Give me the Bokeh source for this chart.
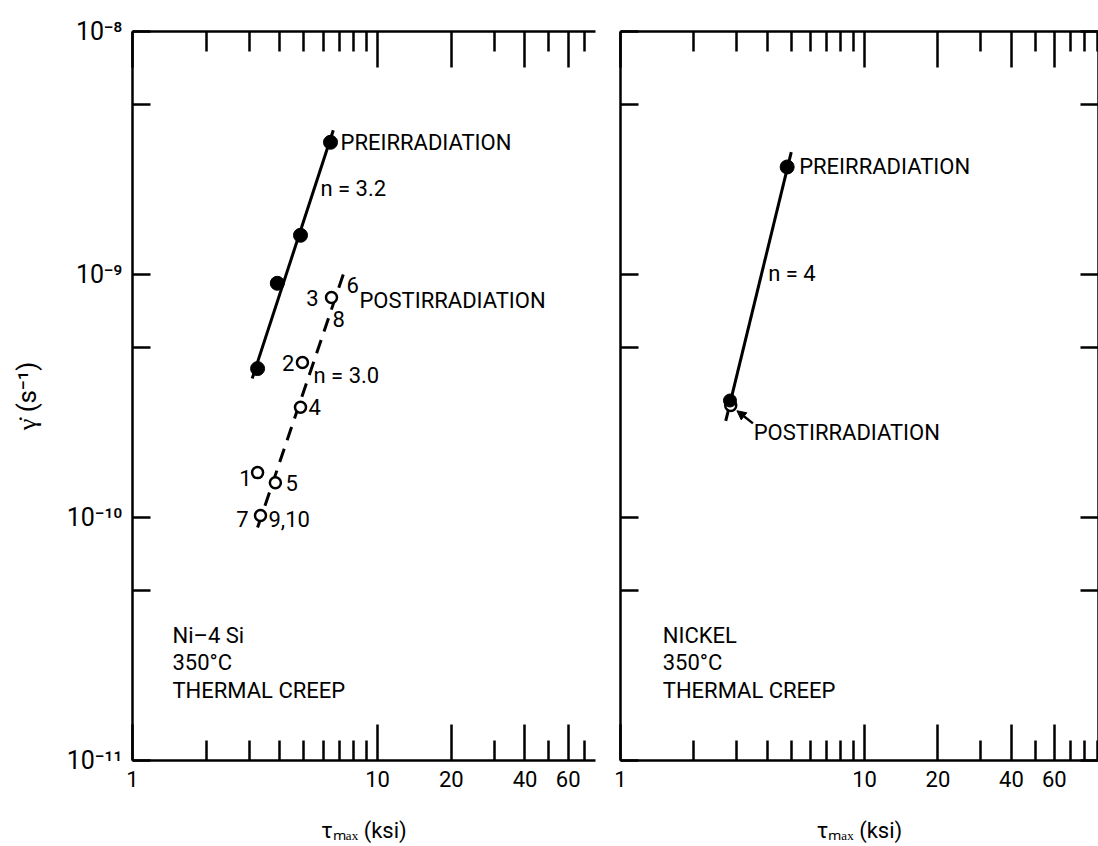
from bokeh.plotting import figure
from bokeh.models import (FixedTicker, LogAxis, CustomJSTickFormatter, Label, Arrow,
                          NormalHead, Range1d)
from bokeh.layouts import row
from bokeh.core.properties import value
from bokeh.embed import file_html
from bokeh.resources import INLINE

# ---------------- data ----------------
# Ni-4Si, preirradiation (filled)
ni4si_pre_tau = [3.24, 3.90, 4.85, 6.43]
ni4si_pre_rate = [4.1e-10, 9.2e-10, 1.45e-9, 3.5e-9]
ni4si_pre_fit_tau = [3.08, 6.60]
ni4si_pre_fit_rate = [3.73e-10, 3.92e-9]

# Ni-4Si, postirradiation (open), specimens 1,2,3(6,8),4,5,7(9,10)
ni4si_post_id = ["1", "2", "3", "4", "5", "7"]
ni4si_post_tau = [3.24, 4.94, 6.49, 4.85, 3.83, 3.33]
ni4si_post_rate = [1.53e-10, 4.34e-10, 8.04e-10, 2.84e-10, 1.39e-10, 1.02e-10]
ni4si_post_fit_tau = [3.24, 7.30]
ni4si_post_fit_rate = [9.1e-11, 1.02e-9]

# Nickel
ni_pre_tau = [4.82]
ni_pre_rate = [2.77e-9]
ni_post_tau = [2.83]
ni_post_rate = [2.89e-10]
ni_post_filled_tau = [2.81]
ni_post_filled_rate = [3.03e-10]
ni_fit_tau = [2.70, 5.01]
ni_fit_rate = [2.5e-10, 3.19e-9]

# ticks
x_tick_values = [1, 10, 20, 40, 60]
x_tick_labels = ["1", "10", "20", "40", "60"]
x_minor_values = [2, 3, 4, 5, 6, 7, 8, 9, 30, 50, 70, 80, 90]
y_tick_values = [1e-11, 1e-10, 1e-9, 1e-8]
y_tick_labels = ["10\u207b\u00b9\u00b9", "10\u207b\u00b9\u2070", "10\u207b\u2079", "10\u207b\u2078"]
y_minor_values = [5e-11, 5e-10, 5e-9]

FONT = "Roboto"
FS = "22px"

label_code = """
let best = 0, bd = Infinity;
for (let i = 0; i < vals.length; i++) {
  const d = Math.abs(Math.log10(tick) - Math.log10(vals[i]));
  if (d < bd) { bd = d; best = i; }
}
return labs[best];
"""
blank_code = "return '';"


def style_axis(ax, major, minor, labels, major_in, minor_in, show_labels, fs=FS):
    ax.ticker = FixedTicker(ticks=major, minor_ticks=minor)
    ax.major_tick_in = major_in
    ax.major_tick_out = 0
    ax.minor_tick_in = minor_in
    ax.minor_tick_out = 0
    ax.axis_line_width = 2.5
    ax.major_tick_line_width = 2.5
    ax.minor_tick_line_width = 2.5
    ax.axis_line_color = "black"
    ax.major_tick_line_color = "black"
    ax.minor_tick_line_color = "black"
    if show_labels:
        ax.formatter = CustomJSTickFormatter(args=dict(vals=major, labs=labels), code=label_code)
        ax.major_label_text_font = FONT
        ax.major_label_text_font_size = fs
        ax.major_label_text_color = "black"
    else:
        ax.formatter = CustomJSTickFormatter(code=blank_code)
        ax.major_label_text_font_size = "0px"
        ax.major_label_standoff = 0


def make_panel(width, border_left, border_right, x_end, left_labels, right_axis):
    p = figure(width=width, height=846, x_axis_type="log", y_axis_type="log",
               x_range=Range1d(1, x_end), y_range=Range1d(1e-11, 1e-8),
               output_backend="svg", toolbar_location=None,
               min_border_left=border_left, min_border_right=border_right,
               min_border_top=31, min_border_bottom=86)
    p.grid.visible = False
    p.outline_line_color = None
    p.background_fill_color = "white"
    p.border_fill_color = "white"

    xb = p.xaxis[0]
    style_axis(xb, x_tick_values, x_minor_values, x_tick_labels, 36, 20, True)
    xb.major_label_standoff = 10
    xb.axis_label = "\u03c4\u2098\u2090\u2093 (ksi)"
    xb.axis_label_text_font = FONT
    xb.axis_label_text_font_size = FS
    xb.axis_label_text_font_style = "normal"
    xb.axis_label_text_color = "black"
    xb.axis_label_standoff = 28

    xt = LogAxis()
    style_axis(xt, x_tick_values, x_minor_values, x_tick_labels, 36, 20, False)
    p.add_layout(xt, "above")

    yl = p.yaxis[0]
    style_axis(yl, y_tick_values, y_minor_values, y_tick_labels, 18, 18, left_labels, fs="25px")
    if left_labels:
        yl.major_label_standoff = 10
        yl.axis_label = "\u03b3\u0307 (s\u207b\u00b9)"
        yl.axis_label_text_font = FONT
        yl.axis_label_text_font_size = "26px"
        yl.axis_label_text_font_style = "normal"
        yl.axis_label_text_color = "black"
        yl.axis_label_standoff = 22

    if right_axis:
        yr = LogAxis()
        style_axis(yr, y_tick_values, y_minor_values, y_tick_labels, 18, 18, False)
        p.add_layout(yr, "right")
    return p


def add_text(p, x, y, txt, dx=0, dy=0, align="left"):
    p.text(x=x, y=y, text=txt, x_offset=dx, y_offset=dy,
           text_font=value(FONT), text_font_size=FS, text_color="black",
           text_baseline="middle", text_align=align)


# ---------------- left panel: Ni-4 Si ----------------
p1 = make_panel(607, 132, 12, 77.6, True, False)

p1.line(ni4si_pre_fit_tau, ni4si_pre_fit_rate, line_color="black", line_width=3)
p1.line(ni4si_post_fit_tau, ni4si_post_fit_rate, line_color="black", line_width=3,
        line_dash="14 9")
p1.scatter(ni4si_pre_tau, ni4si_pre_rate, size=14, marker="circle",
           fill_color="black", line_color="black")
p1.scatter(ni4si_post_tau, ni4si_post_rate, size=11, marker="circle",
           fill_color="white", line_color="black", line_width=2.5)

add_text(p1, [ni4si_pre_tau[-1]], [ni4si_pre_rate[-1]], ["PREIRRADIATION"], dx=10)

# specimen numbers next to the open circles
pt = lambda i: ([ni4si_post_tau[i]], [ni4si_post_rate[i]])
add_text(p1, *pt(0), ["1"], dx=-6, dy=5, align="right")
add_text(p1, *pt(1), ["2"], dx=-8, dy=0, align="right")
add_text(p1, *pt(2), ["3"], dx=-13, dy=0, align="right")
add_text(p1, *pt(2), ["6"], dx=15, dy=-13)
add_text(p1, *pt(2), ["8"], dx=1, dy=21)
add_text(p1, *pt(2), ["POSTIRRADIATION"], dx=28, dy=3)
add_text(p1, *pt(3), ["4"], dx=8, dy=0)
add_text(p1, *pt(4), ["5"], dx=10, dy=0)
add_text(p1, *pt(5), ["7"], dx=-12, dy=4, align="right")
add_text(p1, *pt(5), ["9,10"], dx=8, dy=4)

for txt, x, y in [("n = 3.2", 5.85, 2.26e-9), ("n = 3.0", 5.48, 3.84e-10),
                  ("Ni\u20134 Si", 1.456, 3.27e-11), ("350\u00b0C", 1.456, 2.53e-11),
                  ("THERMAL  CREEP", 1.456, 1.94e-11)]:
    p1.add_layout(Label(x=x, y=y, text=txt, text_font=FONT, text_font_size=FS,
                        text_color="black", text_baseline="middle"))

# ---------------- right panel: Nickel ----------------
p2 = make_panel(491, 13, 0, 91.0, False, True)

p2.line(ni_fit_tau, ni_fit_rate, line_color="black", line_width=3)
p2.scatter(ni_post_tau, ni_post_rate, size=11, marker="circle",
           fill_color="white", line_color="black", line_width=2.5)
p2.scatter(ni_post_filled_tau, ni_post_filled_rate, size=13, marker="circle",
           fill_color="black", line_color="black")
p2.scatter(ni_pre_tau, ni_pre_rate, size=14, marker="circle",
           fill_color="black", line_color="black")

add_text(p2, ni_pre_tau, ni_pre_rate, ["PREIRRADIATION"], dx=12)
add_text(p2, ni_post_tau, ni_post_rate, ["POSTIRRADIATION"], dx=23, dy=27)
p2.add_layout(Arrow(end=NormalHead(size=9, fill_color="black", line_color="black"),
                    x_start=3.49, y_start=2.44e-10, x_end=3.0, y_end=2.75e-10,
                    line_width=2.5, line_color="black"))

for txt, x, y in [("n = 4", 4.03, 1.01e-9),
                  ("NICKEL", 1.49, 3.27e-11), ("350\u00b0C", 1.49, 2.53e-11),
                  ("THERMAL  CREEP", 1.49, 1.94e-11)]:
    p2.add_layout(Label(x=x, y=y, text=txt, text_font=FONT, text_font_size=FS,
                        text_color="black", text_baseline="middle"))

layout = row(p1, p2)
open("out.html", "w").write(file_html(layout, INLINE))
